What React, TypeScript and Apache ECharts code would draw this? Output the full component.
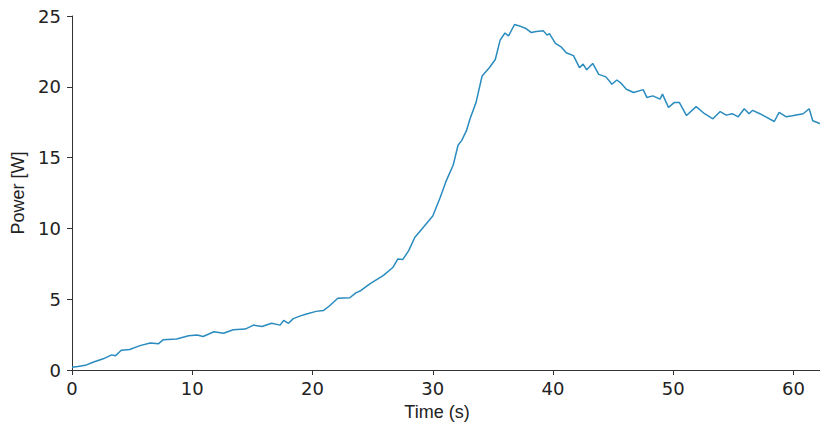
import React, { useEffect, useRef } from "react";
import * as echarts from "echarts";

const timeS: number[] = [
  0, 0.5, 1.1, 1.8, 2.6, 3.3, 3.6, 4.1, 4.8, 5.65, 6.5, 7.2, 7.6, 8.7, 9.7, 10.4, 10.9, 11.8, 12.6, 13.4,
  14.4, 15.1, 15.8, 16.6, 17.3, 17.6, 18.0, 18.4, 19.0, 19.5, 20.3, 20.9, 21.4, 22.1, 23.1, 23.6, 24.0, 24.8, 25.9, 26.7,
  27.1, 27.5, 28.0, 28.5, 29.2, 30.0, 30.6, 31.1, 31.7, 32.1, 32.4, 32.8, 33.1, 33.6, 34.1, 34.7, 35.2, 35.6, 36.0, 36.3,
  36.8, 37.2, 37.7, 38.2, 38.6, 39.2, 39.5, 39.7, 40.2, 40.7, 41.1, 41.7, 42.2, 42.5, 42.8, 43.3, 43.8, 44.4, 44.9, 45.3,
  45.6, 46.1, 46.7, 47.5, 47.8, 48.3, 48.9, 49.1, 49.6, 50.1, 50.5, 51.1, 51.9, 52.6, 53.3, 53.9, 54.4, 54.9, 55.4, 55.9,
  56.3, 56.6, 57.2, 57.7, 58.4, 58.8, 59.4, 59.9, 60.8, 61.3, 61.6, 62.2,
];

const powerW: number[] = [
  0.2, 0.25, 0.33, 0.56, 0.79, 1.07, 1.0, 1.4, 1.45, 1.72, 1.91, 1.86, 2.14, 2.19, 2.42, 2.47, 2.37, 2.7, 2.6, 2.84,
  2.89, 3.17, 3.07, 3.3, 3.17, 3.5, 3.3, 3.63, 3.82, 3.96, 4.14, 4.2, 4.52, 5.07, 5.1, 5.45, 5.6, 6.1, 6.68, 7.26,
  7.84, 7.8, 8.43, 9.36, 10.06, 10.87, 12.15, 13.32, 14.48, 15.87, 16.2, 16.9, 17.74, 18.9, 20.76, 21.35, 21.93, 23.3, 23.8, 23.6,
  24.4, 24.3, 24.14, 23.83, 23.9, 23.95, 23.65, 23.76, 23.07, 22.8, 22.4, 22.2, 21.35, 21.6, 21.2, 21.65, 20.88, 20.7, 20.18, 20.48,
  20.3, 19.83, 19.6, 19.8, 19.25, 19.36, 19.13, 19.48, 18.55, 18.9, 18.9, 17.97, 18.6, 18.1, 17.74, 18.25, 18.0, 18.1, 17.88, 18.45,
  18.1, 18.34, 18.1, 17.88, 17.55, 18.2, 17.88, 17.95, 18.1, 18.45, 17.6, 17.4,
];

const xTicks: number[] = [0, 10, 20, 30, 40, 50, 60];
const yTicks: number[] = [0, 5, 10, 15, 20, 25];

export default function App() {
  const ref = useRef<HTMLDivElement>(null);
  useEffect(() => {
    if (!ref.current) return;
    const chart = echarts.init(ref.current, undefined, { renderer: "svg" });
    const axisLine = { show: true, lineStyle: { color: "#333", width: 1 } };
    chart.setOption({
      animation: false,
      backgroundColor: "#fff",
      grid: { left: 72, right: 0, top: 16, bottom: 51, containLabel: false },
      xAxis: {
        type: "value",
        min: 0,
        max: 62.2,
        interval: 10,
        name: "Time (s)",
        nameLocation: "middle",
        nameGap: 33,
        nameTextStyle: { fontFamily: "Liberation Sans", fontSize: 18, color: "#222", padding: [0, 18, 0, 0] },
        axisLine,
        axisTick: { show: true, length: 5, lineStyle: { color: "#333" } },
        axisLabel: {
          margin: 9,
          fontFamily: "DejaVu Sans",
          fontSize: 18,
          color: "#222",
          showMaxLabel: false,
          formatter: (v: number) => (xTicks.includes(v) ? String(v) : ""),
        },
        splitLine: { show: false },
      },
      yAxis: {
        type: "value",
        min: 0,
        max: 25,
        interval: 5,
        name: "Power [W]",
        nameLocation: "middle",
        nameGap: 44,
        nameTextStyle: { fontFamily: "Liberation Sans", fontSize: 18, color: "#222" },
        axisLine,
        axisTick: { show: true, length: 5, lineStyle: { color: "#333" } },
        axisLabel: {
          margin: 11,
          fontFamily: "DejaVu Sans",
          fontSize: 18,
          color: "#222",
          formatter: (v: number) => (yTicks.includes(v) ? String(v) : ""),
        },
        splitLine: { show: false },
      },
      series: [
        {
          type: "line",
          data: timeS.map((t, i) => [t, powerW[i]]),
          showSymbol: false,
          lineStyle: { color: "#2a8bbf", width: 1.5 },
          clip: true,
        },
      ],
    });
    return () => chart.dispose();
  }, []);
  return <div ref={ref} style={{ width: 820, height: 426, position: "absolute", left: 0, top: 0 }} />;
}
